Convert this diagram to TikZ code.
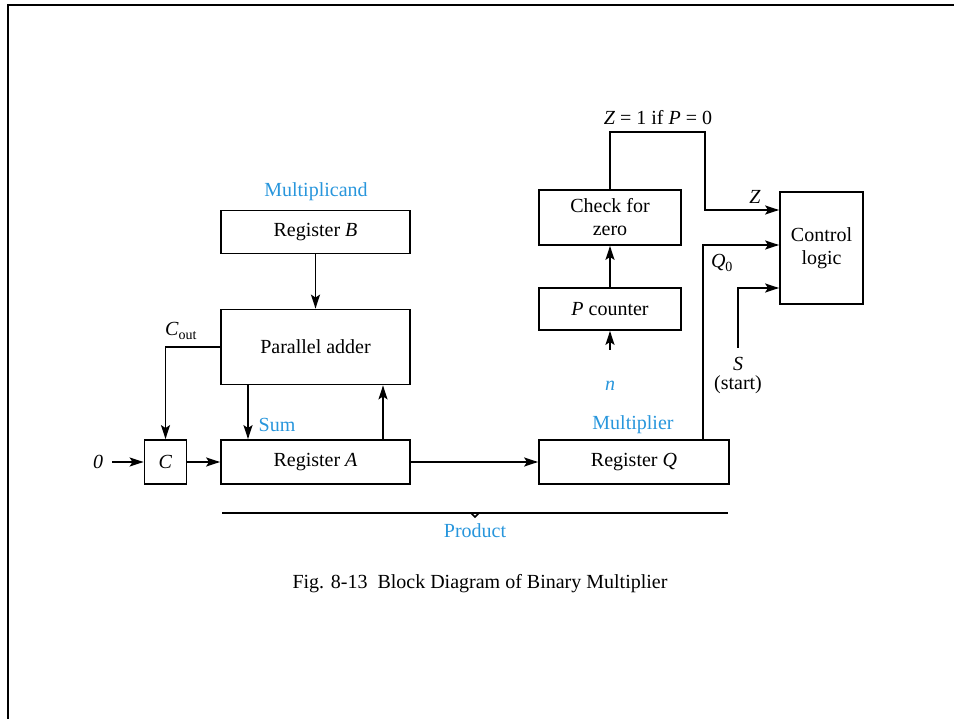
\documentclass[tikz,border=0pt]{standalone}
\usepackage{fontspec}
\setmainfont{Liberation Serif}
\usetikzlibrary{arrows.meta}
\definecolor{lblue}{RGB}{40,150,220}
\begin{document}
\begin{tikzpicture}[x=1pt,y=-1pt,
  every node/.style={font=\fontsize{20}{23}\selectfont, inner sep=0pt},
  blk/.style={draw, line width=1.8pt, rectangle, align=center},
  wire/.style={line width=1.6pt},
  arr/.style={wire, -{Stealth[length=14pt,width=9pt,inset=3pt]}},
  lbl/.style={text=lblue}]
\useasboundingbox (0,0) rectangle (954,719);
\draw[line width=2.2pt] (8,719) -- (8,5) -- (954,5);

% boxes
\node[blk, minimum width=189pt, minimum height=43pt] (regB) at (315.5,232) {Register \textit{B}};
\node[blk, minimum width=189pt, minimum height=75pt] (adder) at (315.5,347) {Parallel adder};
\node[blk, minimum width=42pt, minimum height=44pt] (C) at (165.5,462) {\textit{C}};
\node[blk, minimum width=189pt, minimum height=44pt] (regA) at (315.5,462) {Register \textit{A}};
\node[blk, minimum width=190pt, minimum height=44pt] (regQ) at (634,462) {Register \textit{Q}};
\node[blk, minimum width=142pt, minimum height=42pt] (pcnt) at (610,309) {\textit{P} counter};
\node[blk, minimum width=142pt, minimum height=55pt] (chk) at (610,217.5) {Check for\\zero};
\node[blk, minimum width=83pt, minimum height=112pt] (ctrl) at (821.5,248) {Control\\logic};

% labels
\node[lbl] (mcand) at (316,192) {Multiplicand};
\node[lbl] (sum) at (277,425) {Sum};
\node[lbl] (mplier) at (633,425) {Multiplier};
\node[lbl] (prod) at (475,531) {Product};
\node[lbl] (n) at (610,386) {\textit{n}};
\node (zero) at (98,462) {\textit{0}};
\node (cout) at (181,331) {\textit{C}\textsubscript{out}};
\node (zeq) at (658,118) {\textit{Z} = 1 if \textit{P} = 0};
\node (zl) at (755,197) {\textit{Z}};
\node (q0) at (722,263) {\textit{Q}\textsubscript{0}};
\node (s) at (738,364) {\textit{S}};
\node (start) at (738,385) {(start)};
\node (cap) at (480,584) {Fig. 8-13\enspace Block Diagram of Binary Multiplier};

% coordinates
\coordinate (zin) at (112,462);
\coordinate (nin) at (610,350);
\coordinate (sin) at (738,348);

% connectors
\draw[arr] (regB.south) -- (adder.north);
\draw[arr] (zin) -- (C.west);
\draw[arr] (C.east) -- (regA.west);
\draw[arr] (adder.south -| 248,0) -- (regA.north -| 248,0);
\draw[arr] (regA.north -| 383,0) -- (adder.south -| 383,0);
\draw[arr] (adder.west |- 0,347) -| (C.north);
\draw[arr] (regA.east) -- (regQ.west);
\draw[arr] (nin) -- (pcnt.south);
\draw[arr] (pcnt.north) -- (chk.south);
\draw[arr] (chk.north) -- (610,132) -| (705,210) -- (ctrl.west |- 0,210);
\draw[arr] (regQ.north -| 703,0) |- (ctrl.west |- 0,245);
\draw[arr] (sin) |- (ctrl.west |- 0,288);

% product bracket
\draw[wire] (222,513) -- (728,513);
\draw[wire] (471,513) -- (475,517) -- (479,513);
\end{tikzpicture}
\end{document}
